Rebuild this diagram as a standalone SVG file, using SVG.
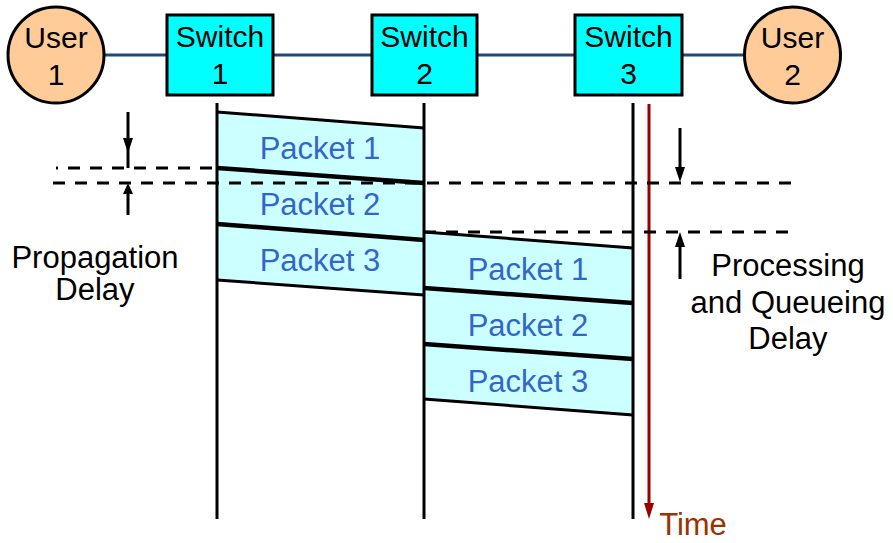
<svg xmlns="http://www.w3.org/2000/svg" width="893" height="543" viewBox="0 0 893 543">
<style>
text{font-family:"Liberation Sans",Arial,sans-serif;font-size:31px;text-anchor:middle}
.node text{font-size:30px;fill:#000}
.user{fill:#ffcc99;stroke:#000;stroke-width:3}
.sw{fill:#00ffff;stroke:#000;stroke-width:3}
.link{stroke:#1f497d;stroke-width:3}
.tl{stroke:#000;stroke-width:3}
.pkt{fill:#ccffff;stroke:none}
.edge{stroke:#000;stroke-width:3;fill:none}
.bnd{stroke:#000;stroke-width:4.5;fill:none}
.dash{stroke:#000;stroke-width:3;stroke-dasharray:12 10;fill:none}
.plabel{fill:#3366cc}
.arr{stroke:#000;stroke-width:3}
</style>
<rect width="893" height="543" fill="#fff"/>
<g id="connectors">
<line class="link" x1="104" y1="55" x2="167" y2="55"/>
<line class="link" x1="273" y1="55" x2="372" y2="55"/>
<line class="link" x1="477" y1="55" x2="575" y2="55"/>
<line class="link" x1="682" y1="55" x2="744" y2="55"/>
</g>
<g id="user1" class="node"><circle class="user" cx="56" cy="55" r="48"/><text x="56" y="48">User</text><text x="56" y="85">1</text></g>
<g id="switch1" class="node"><rect class="sw" x="167" y="15" width="106" height="80"/><text x="220" y="47">Switch</text><text x="220" y="84">1</text></g>
<g id="switch2" class="node"><rect class="sw" x="372" y="15" width="105" height="80"/><text x="424.5" y="47">Switch</text><text x="424.5" y="84">2</text></g>
<g id="switch3" class="node"><rect class="sw" x="575" y="15" width="107" height="80"/><text x="628.5" y="47">Switch</text><text x="628.5" y="84">3</text></g>
<g id="user2" class="node"><circle class="user" cx="792.5" cy="55" r="48"/><text x="792.5" y="48">User</text><text x="792.5" y="85">2</text></g>
<g id="packets">
<polygon class="pkt" points="217,112 424,128 424,295 217,280"/>
<polygon class="pkt" points="424,232 633,248 633,415 424,399"/>
<line class="edge" x1="217" y1="112" x2="424" y2="128"/>
<line class="bnd" x1="217" y1="168" x2="424" y2="183"/>
<line class="bnd" x1="217" y1="224" x2="424" y2="240"/>
<line class="edge" x1="217" y1="280" x2="424" y2="295"/>
<line class="edge" x1="424" y1="232" x2="633" y2="248"/>
<line class="bnd" x1="424" y1="288" x2="633" y2="303"/>
<line class="bnd" x1="424" y1="344" x2="633" y2="359"/>
<line class="edge" x1="424" y1="399" x2="633" y2="415"/>
<text class="plabel" x="320" y="159">Packet 1</text>
<text class="plabel" x="320" y="215">Packet 2</text>
<text class="plabel" x="320" y="271">Packet 3</text>
<text class="plabel" x="528" y="280">Packet 1</text>
<text class="plabel" x="528" y="336">Packet 2</text>
<text class="plabel" x="528" y="392">Packet 3</text>
</g>
<g id="timelines">
<line class="tl" x1="217" y1="103" x2="217" y2="519"/>
<line class="tl" x1="424" y1="103" x2="424" y2="519"/>
<line class="tl" x1="633" y1="103" x2="633" y2="519"/>
<line x1="649" y1="104" x2="649" y2="506" stroke="#990000" stroke-width="3"/>
<polygon points="649,519 644,503 654,503" fill="#990000"/>
<text x="693" y="535" fill="#993300">Time</text>
</g>
<g id="dashes">
<line class="dash" x1="56" y1="168" x2="217" y2="168" stroke-dashoffset="10"/>
<line class="dash" x1="53" y1="183" x2="797" y2="183"/>
<line class="dash" x1="424" y1="232" x2="797" y2="232"/>
</g>
<g id="prop-delay">
<line class="arr" x1="128" y1="112" x2="128" y2="168"/>
<polygon points="128,153 123,138 133,138"/>
<line class="arr" x1="128" y1="215" x2="128" y2="190"/>
<polygon points="128,183 123,194 133,194"/>
<text x="95" y="268">Propagation</text>
<text x="95" y="300">Delay</text>
</g>
<g id="proc-delay">
<line class="arr" x1="680" y1="128" x2="680" y2="172"/>
<polygon points="680,182 675,167 685,167"/>
<line class="arr" x1="680" y1="279" x2="680" y2="242"/>
<polygon points="680,232 675,247 685,247"/>
<text x="788" y="276">Processing</text>
<text x="788" y="313">and Queueing</text>
<text x="788" y="349">Delay</text>
</g>
</svg>
